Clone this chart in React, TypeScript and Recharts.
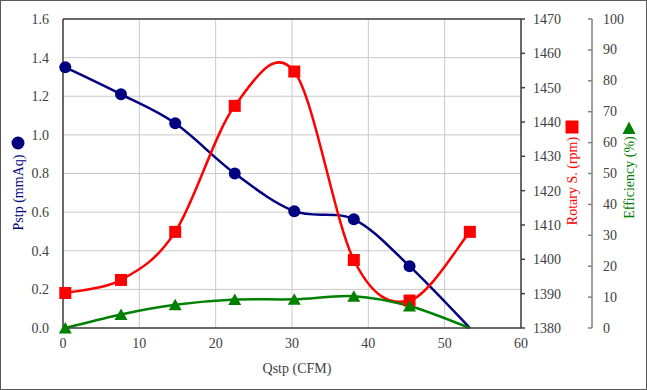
import React from "react";
import {
  ComposedChart,
  Line,
  XAxis,
  YAxis,
  CartesianGrid,
  ReferenceLine,
} from "recharts";

const flowCfm = [0.3, 7.6, 14.7, 22.5, 30.3, 38.1, 45.4, 53.3];
const pressureMmAq = [1.35, 1.21, 1.06, 0.8, 0.605, 0.563, 0.32, 0.0];
const rotarySpeedRpm = [1390.2, 1394, 1408, 1444.7, 1454.7, 1399.8, 1388, 1408];
const efficiencyPct = [0, 4.4, 7.5, 9.2, 9.3, 10.3, 7.1, 0];

const flowTicks = [0, 10, 20, 30, 40, 50, 60];
const pressureTicks = [0, 0.2, 0.4, 0.6, 0.8, 1.0, 1.2, 1.4, 1.6];
const speedTicks = [1380, 1390, 1400, 1410, 1420, 1430, 1440, 1450, 1460, 1470];
const efficiencyTicks = [0, 10, 20, 30, 40, 50, 60, 70, 80, 90, 100];

const NAVY = "#000080";
const RED = "#FF0000";
const GREEN = "#008000";
const AXIS = "#404040";
const TEXT = "#404040";
const FONT = "'Liberation Serif', 'DejaVu Serif', serif";

const chartData = flowCfm.map((q, i) => ({
  q,
  pstp: pressureMmAq[i],
  rpm: rotarySpeedRpm[i],
  eff: efficiencyPct[i],
}));

// Excel-style smoothed line (Catmull-Rom with 1/6 control handles)
function excelSmooth(context: any) {
  let pts: [number, number][] = [];
  return {
    areaStart() {},
    areaEnd() {},
    lineStart() {
      pts = [];
    },
    point(x: number, y: number) {
      pts.push([+x, +y]);
    },
    lineEnd() {
      if (!pts.length) return;
      context.moveTo(pts[0][0], pts[0][1]);
      for (let i = 0; i < pts.length - 1; i++) {
        const p0 = pts[i - 1] || pts[i];
        const p1 = pts[i];
        const p2 = pts[i + 1];
        const p3 = pts[i + 2] || p2;
        context.bezierCurveTo(
          p1[0] + (p2[0] - p0[0]) / 6,
          p1[1] + (p2[1] - p0[1]) / 6,
          p2[0] - (p3[0] - p1[0]) / 6,
          p2[1] - (p3[1] - p1[1]) / 6,
          p2[0],
          p2[1]
        );
      }
    },
  };
}

const lastIndex = flowCfm.length - 1;

const circleDot = (props: any) => {
  const { cx, cy, index } = props;
  if (index === lastIndex) return <g key={`c-${index}`} />;
  return <circle key={`c-${index}`} cx={cx} cy={cy} r={6} fill={NAVY} />;
};

const squareDot = (props: any) => {
  const { cx, cy, index } = props;
  return (
    <rect key={`s-${index}`} x={cx - 6} y={cy - 6} width={12} height={12} fill={RED} />
  );
};

const triangleDot = (props: any) => {
  const { cx, cy, index } = props;
  if (index === lastIndex) return <g key={`t-${index}`} />;
  return (
    <path
      key={`t-${index}`}
      d={`M${cx},${cy - 6}L${cx + 6.5},${cy + 5.5}L${cx - 6.5},${cy + 5.5}Z`}
      fill={GREEN}
    />
  );
};

function Marker({ kind, x, y }: { kind: string; x: number; y: number }) {
  if (kind === "circle") return <circle cx={x} cy={y} r={6.5} fill={NAVY} />;
  if (kind === "square")
    return <rect x={x - 6.5} y={y - 6.5} width={13} height={13} fill={RED} />;
  return (
    <path d={`M${x},${y - 6.5}L${x + 6.5},${y + 6}L${x - 6.5},${y + 6}Z`} fill={GREEN} />
  );
}

function AxisTitle(props: any) {
  const { viewBox, text, color, dx, dy, marker, markerDy } = props;
  const vb = viewBox || { x: 0, y: 0, width: 0, height: 0 };
  const cx = vb.x + dx;
  const cy = vb.y + vb.height / 2 + dy;
  return (
    <g>
      <text
        x={cx}
        y={cy}
        transform={`rotate(-90, ${cx}, ${cy})`}
        textAnchor="middle"
        dominantBaseline="central"
        fill={color}
        fontSize={14}
        fontFamily={FONT}
      >
        {text}
      </text>
      <Marker kind={marker} x={cx} y={vb.y + vb.height / 2 + markerDy} />
    </g>
  );
}

function FlowTitle(props: any) {
  const vb = props.viewBox || { x: 0, y: 0, width: 0, height: 0 };
  return (
    <text
      x={vb.x + vb.width / 2 + 5}
      y={vb.y + 40}
      textAnchor="middle"
      dominantBaseline="central"
      fill={TEXT}
      fontSize={14}
      fontFamily={FONT}
    >
      Qstp (CFM)
    </text>
  );
}

// efficiency axis: tick marks point inward, labels outside
function EfficiencyTick(props: any) {
  const { x, y, payload } = props;
  return (
    <g>
      <line x1={x - 15} x2={x - 11} y1={y} y2={y} stroke="#808080" strokeWidth={1.5} />
      <text x={x} y={y} dominantBaseline="central" fill={TEXT} fontSize={14} fontFamily={FONT}>
        {payload.value}
      </text>
    </g>
  );
}

const tickStyle = { fill: TEXT, fontSize: 14, fontFamily: FONT };

export default function App() {
  return (
    <div
      style={{
        position: "absolute",
        left: 0,
        top: 0,
        width: 647,
        height: 390,
        background: "#fff",
        fontFamily: FONT,
      }}
    >
      <ComposedChart
        width={647}
        height={390}
        data={chartData}
        margin={{ top: 19, right: 0, bottom: 0, left: 0 }}
      >
        <CartesianGrid yAxisId="a_press" stroke="#C8C8C8" strokeWidth={1} />
        <XAxis
          dataKey="q"
          type="number"
          domain={[0, 60]}
          ticks={flowTicks}
          height={62}
          tickSize={0}
          tickMargin={10}
          tick={tickStyle}
          axisLine={{ stroke: AXIS, strokeWidth: 1.5 }}
          label={<FlowTitle />}
        />
        <YAxis
          yAxisId="a_press"
          orientation="left"
          domain={[0, 1.6]}
          ticks={pressureTicks}
          width={63}
          tickSize={0}
          tickMargin={14}
          tick={tickStyle}
          tickFormatter={(v: number) => v.toFixed(1)}
          axisLine={{ stroke: AXIS, strokeWidth: 1.5 }}
          label={
            <AxisTitle
              text="Pstp (mmAq)"
              color={NAVY}
              dx={18}
              dy={19}
              marker="circle"
              markerDy={-30.5}
            />
          }
        />
        <YAxis
          yAxisId="b_rpm"
          orientation="right"
          domain={[1380, 1470]}
          ticks={speedTicks}
          width={71}
          tickSize={4}
          tickMargin={8}
          tick={tickStyle}
          tickLine={{ stroke: AXIS, strokeWidth: 1.5 }}
          axisLine={{ stroke: AXIS, strokeWidth: 1.5 }}
          label={
            <AxisTitle
              text="Rotary S. (rpm)"
              color={RED}
              dx={51}
              dy={7.5}
              marker="square"
              markerDy={-46.5}
            />
          }
        />
        <YAxis
          yAxisId="c_eff"
          orientation="right"
          domain={[0, 100]}
          ticks={efficiencyTicks}
          width={55}
          tickSize={0}
          tickMargin={11}
          tickLine={false}
          tick={<EfficiencyTick />}
          axisLine={{ stroke: "#808080", strokeWidth: 1.5 }}
          label={
            <AxisTitle
              text="Efficiency (%)"
              color={GREEN}
              dx={37}
              dy={4}
              marker="triangle"
              markerDy={-45.5}
            />
          }
        />
        <ReferenceLine yAxisId="a_press" y={1.6} stroke={AXIS} strokeWidth={1.5} />
        <Line
          yAxisId="a_press"
          dataKey="pstp"
          type={excelSmooth as any}
          stroke={NAVY}
          strokeWidth={2.5}
          dot={circleDot}
          activeDot={false}
          isAnimationActive={false}
        />
        <Line
          yAxisId="b_rpm"
          dataKey="rpm"
          type={excelSmooth as any}
          stroke={RED}
          strokeWidth={2.5}
          dot={squareDot}
          activeDot={false}
          isAnimationActive={false}
        />
        <Line
          yAxisId="c_eff"
          dataKey="eff"
          type={excelSmooth as any}
          stroke={GREEN}
          strokeWidth={2.5}
          dot={triangleDot}
          activeDot={false}
          isAnimationActive={false}
        />
      </ComposedChart>
      <div
        style={{
          position: "absolute",
          left: 0,
          top: 0,
          width: 647,
          height: 390,
          boxSizing: "border-box",
          border: "1px solid #595959",
          pointerEvents: "none",
        }}
      />
    </div>
  );
}
